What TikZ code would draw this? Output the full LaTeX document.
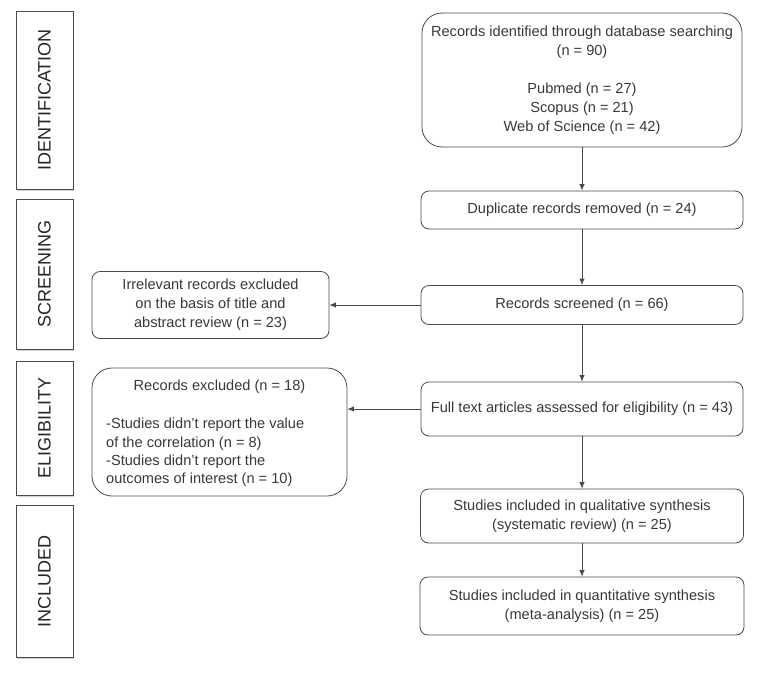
\documentclass[tikz,border=0pt]{standalone}
\usepackage{fontspec}
\setmainfont{Liberation Sans}
\usetikzlibrary{arrows.meta,shadows}
\definecolor{ln}{HTML}{4A4A4A}
\definecolor{tx}{HTML}{383838}
\begin{document}
\begin{tikzpicture}[x=1pt,y=-1pt,
  every node/.style={text=tx,font=\fontsize{14.6}{19}\selectfont},
  stage/.style={draw=ln,line width=0.9pt,fill=white,inner sep=0pt,
    drop shadow={opacity=0.35,shadow xshift=0.8pt,shadow yshift=-1.5pt},
    font=\fontsize{18}{20}\selectfont,text=black!85,rotate=90},
  box/.style={draw=ln,line width=0.8pt,rounded corners=8pt,inner sep=0pt,align=center},
  arr/.style={draw=ln,line width=0.9pt,-{Latex[length=6.5pt,width=5.5pt]}}]
\useasboundingbox (0,0) rectangle (757,678);
% stage boxes (rotated: minimum width acts as height)
\node[stage,minimum width=178pt,minimum height=57pt] (s1) at (44.5,100) {IDENTIFICATION};
\node[stage,minimum width=150pt,minimum height=57pt] (s2) at (44.5,274) {SCREENING};
\node[stage,minimum width=134pt,minimum height=57pt] (s3) at (44.5,428) {ELIGIBILITY};
\node[stage,minimum width=152pt,minimum height=57pt] (s4) at (44.5,581) {INCLUDED};
% main column
\node[box,rounded corners=20pt,minimum width=320pt,minimum height=134pt] (b1) at (582,80)
  {Records identified through database searching\\(n = 90)\\[19pt]Pubmed (n = 27)\\Scopus (n = 21)\\Web of Science (n = 42)};
\node[box,minimum width=322pt,minimum height=38pt] (b2) at (582,210) {Duplicate records removed (n = 24)};
\node[box,minimum width=322pt,minimum height=39pt] (b3) at (582,305) {Records screened (n = 66)};
\node[box,minimum width=322pt,minimum height=54pt] (b4) at (582,409) {Full text articles assessed for eligibility (n = 43)};
\node[box,minimum width=323pt,minimum height=54pt] (b5) at (582,516) {Studies included in qualitative synthesis\\(systematic review) (n = 25)};
\node[box,minimum width=324pt,minimum height=58pt] (b6) at (582,606) {Studies included in quantitative synthesis\\(meta-analysis) (n = 25)};
% side boxes
\node[box,minimum width=237pt,minimum height=67pt] (l1) at (210.5,305)
  {Irrelevant records excluded\\on the basis of title and\\abstract review (n = 23)};
\node[box,rounded corners=20pt,minimum width=255pt,minimum height=128pt] (l2) at (219.5,432) {};
\node[anchor=north,inner sep=0pt] (l2t) at (219.5,380) {Records excluded (n = 18)};
\node[anchor=north west,inner sep=0pt,align=left,font=\fontsize{14.6}{18.3}\selectfont] (l2b) at (106,418)
  {-Studies didn't report the value\\of the correlation (n = 8)\\-Studies didn't report the\\outcomes of interest (n = 10)};
% connectors
\draw[arr] (b1) -- (b2);
\draw[arr] (b2) -- (b3);
\draw[arr] (b3) -- (b4);
\draw[arr] (b4) -- (b5);
\draw[arr] (b5) -- (b6);
\draw[arr] (b3.west) -- (l1.east);
\draw[arr] (b4.west) -- (b4.west -| l2.east);
\end{tikzpicture}
\end{document}
